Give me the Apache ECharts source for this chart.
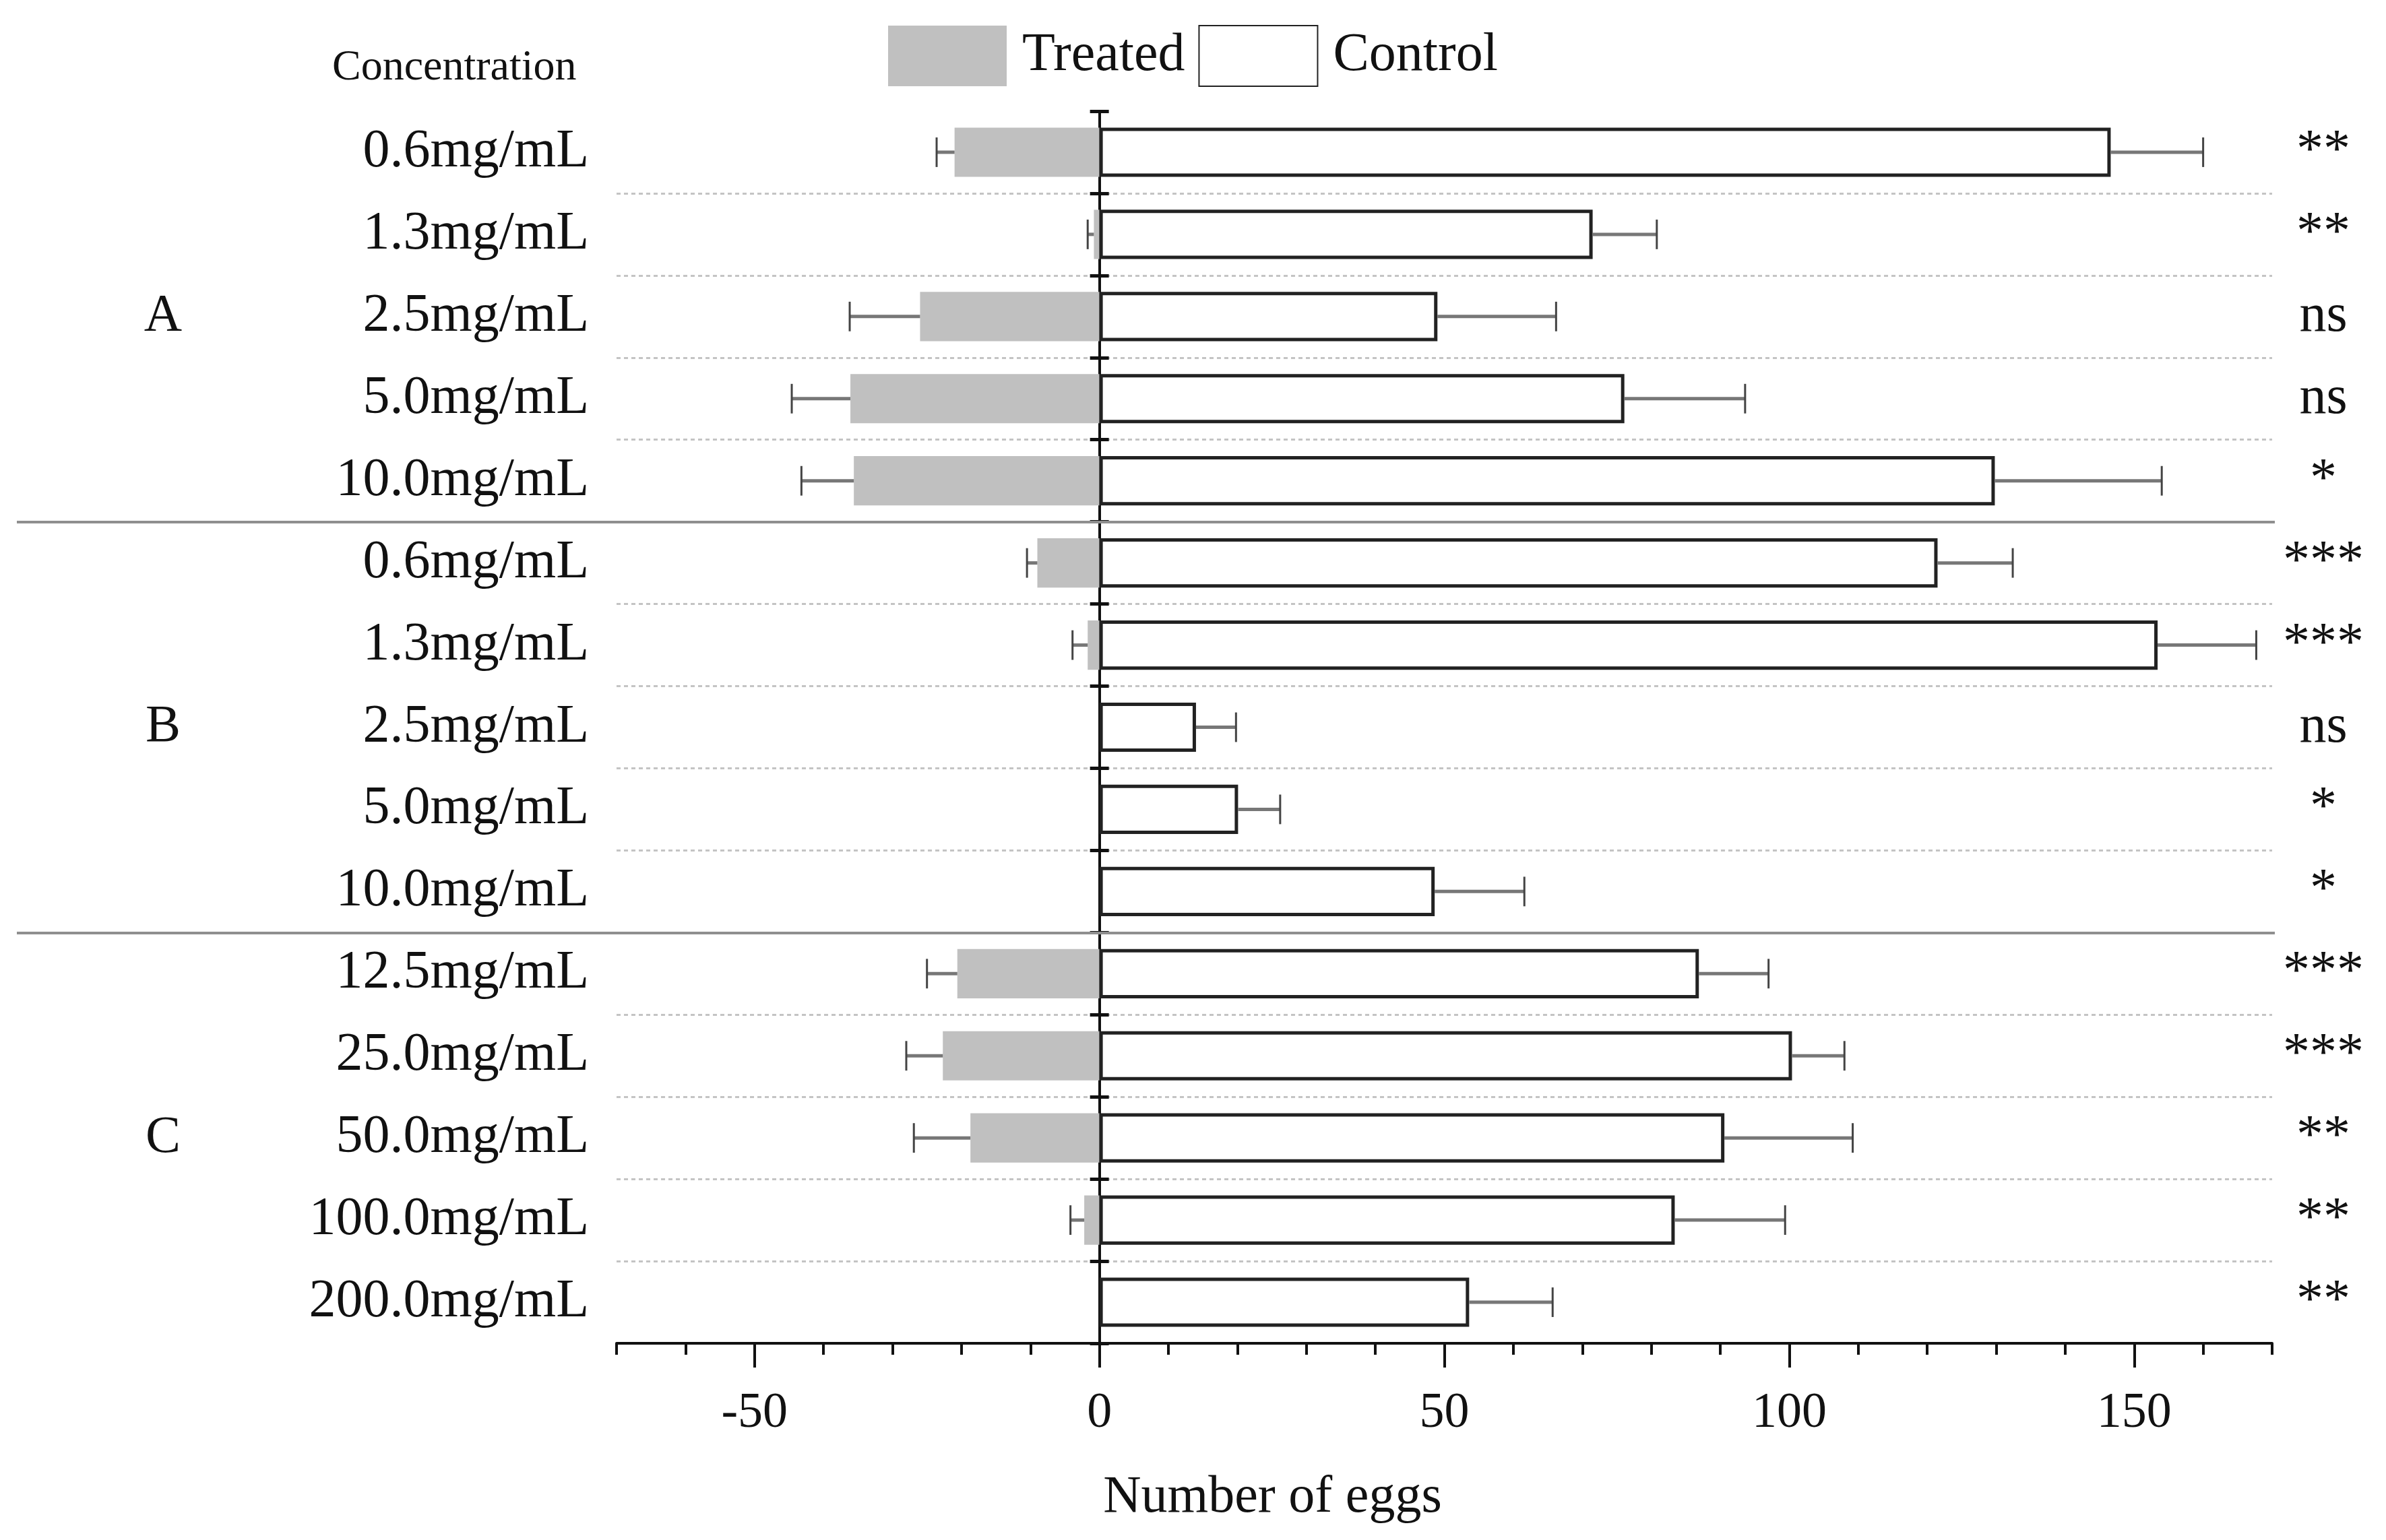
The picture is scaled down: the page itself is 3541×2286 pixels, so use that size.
<!DOCTYPE html>
<html><head><meta charset="utf-8">
<script src="https://cdn.jsdelivr.net/npm/echarts@6/dist/echarts.min.js"></script>
<style>html,body{margin:0;padding:0;background:#fff}#c{width:3541px;height:2286px}</style>
</head><body><div id="c"></div>
<script>
const concentrations = ['0.6mg/mL','1.3mg/mL','2.5mg/mL','5.0mg/mL','10.0mg/mL','0.6mg/mL','1.3mg/mL','2.5mg/mL','5.0mg/mL','10.0mg/mL','12.5mg/mL','25.0mg/mL','50.0mg/mL','100.0mg/mL','200.0mg/mL'];
const groupLabels = ['', '', 'A', '', '', '', '', 'B', '', '', '', '', 'C', '', ''];
const treated = [-21.0,-0.8,-26.0,-36.1,-35.6,-9.0,-1.7,0,0,0,-20.6,-22.7,-18.7,-2.2,0];
const treatedErr = [-23.6,-1.7,-36.2,-44.6,-43.2,-10.5,-3.9,null,null,null,-25.0,-28.0,-26.9,-4.2,null];
const control = [146.6,71.5,49.0,76.1,129.8,121.5,153.4,14.0,20.1,48.6,86.9,100.4,90.6,83.4,53.6];
const controlErr = [160.0,80.8,66.2,93.6,154.0,132.4,167.7,19.8,26.2,61.6,97.0,108.0,109.2,99.4,65.7];
const significance = ['**','**','ns','ns','*','***','***','ns','*','*','***','***','**','**','**'];
const majorTicks = [-50,0,50,100,150];
const minorTicks = [-70,-60,-40,-30,-20,-10,10,20,30,40,60,70,80,90,110,120,130,140,160,170];
const separatorRows = [5,10];

const F = "'Liberation Serif','Times New Roman',serif";
const INK = '#111';

const errData = [];
for (let i = 0; i < concentrations.length; i++) {
  if (treatedErr[i] != null) errData.push([treated[i], treatedErr[i], i]);
  if (controlErr[i] != null) errData.push([control[i], controlErr[i], i]);
}

const chart = echarts.init(document.getElementById('c'), null, {renderer:'canvas'});
const hideAll = {axisLine:{show:false,onZero:false}, axisTick:{show:false}, axisLabel:{show:false}, splitLine:{show:false}};

chart.setOption({
  animation:false,
  backgroundColor:'#fff',
  textStyle:{fontFamily:F, color:INK},
  title:{text:'Concentration', left:488, top:64, textStyle:{fontSize:64, fontWeight:'normal', fontFamily:F, color:INK}},
  legend:{data:['Treated','Control'], left:1313, top:32, itemWidth:176, itemHeight:90, itemGap:20, icon:'rect',
    textStyle:{fontSize:80, fontFamily:F, color:INK, padding:[0,0,0,18]}},
  grid:[
    {left:915, right:169, top:165, bottom:292},
    {left:25, right:165, top:165, bottom:292}
  ],
  xAxis:[
    {type:'value', gridIndex:0, position:'bottom', min:-70, max:170,
      axisLine:{show:true, onZero:false, lineStyle:{color:INK, width:4}},
      axisTick:{show:true, customValues:majorTicks, length:36, lineStyle:{color:INK, width:4}},
      axisLabel:{customValues:majorTicks, fontSize:74, margin:68, color:INK, fontFamily:F},
      splitLine:{show:false},
      name:'Number of eggs', nameLocation:'middle', nameGap:191,
      nameTextStyle:{fontSize:78, fontFamily:F, color:INK, padding:[0,510,0,0]}},
    {type:'value', gridIndex:0, position:'bottom', min:-70, max:170,
      axisLine:{show:false, onZero:false},
      axisTick:{show:true, customValues:minorTicks, length:17, lineStyle:{color:INK, width:4}},
      axisLabel:{show:false}, splitLine:{show:false}},
    Object.assign({type:'value', gridIndex:1, min:0, max:1}, hideAll)
  ],
  yAxis:[
    {type:'category', gridIndex:0, data:concentrations, inverse:true, position:'left',
      axisLine:{show:false, onZero:false}, axisTick:{show:false},
      axisLabel:{interval:0, fontSize:80, margin:41, color:INK, fontFamily:F},
      splitLine:{show:true, interval:function(i){return i!==0 && separatorRows.indexOf(i)<0;},
        lineStyle:{type:[6,5], color:'#c4c4c4', width:3}}},
    {type:'category', gridIndex:0, data:concentrations, inverse:true, position:'left',
      axisLine:{show:true, onZero:true, onZeroAxisIndex:0, lineStyle:{color:INK, width:4}},
      axisTick:{show:true, interval:0, length:14, lineStyle:{color:INK, width:5}},
      axisLabel:{show:false}, splitLine:{show:false}},
    {type:'category', gridIndex:0, data:concentrations, inverse:true, position:'left',
      axisLine:{show:false, onZero:true, onZeroAxisIndex:0},
      axisTick:{show:true, inside:true, interval:0, length:14, lineStyle:{color:INK, width:5}},
      axisLabel:{show:false}, splitLine:{show:false}},
    {type:'category', gridIndex:0, data:groupLabels, inverse:true, position:'left', offset:673,
      axisLine:{show:false, onZero:false}, axisTick:{show:false},
      axisLabel:{interval:0, fontSize:78, margin:0, align:'center', verticalAlign:'middle', color:INK, fontFamily:F,
        lineHeight:78, padding:[0,0,26,0]},
      splitLine:{show:false}},
    {type:'category', gridIndex:0, data:significance, inverse:true, position:'right',
      axisLine:{show:false, onZero:false}, axisTick:{show:false},
      axisLabel:{interval:0, fontSize:80, margin:76, align:'center', color:INK, fontFamily:F},
      splitLine:{show:false}},
    Object.assign({type:'value', gridIndex:1, min:0, max:15, inverse:true}, hideAll)
  ],
  series:[
    {name:'Treated', type:'bar', xAxisIndex:0, yAxisIndex:0, data:treated, barWidth:'60%', barGap:'-100%',
      itemStyle:{color:'#c0c0c0'}},
    {name:'Control', type:'bar', xAxisIndex:0, yAxisIndex:0, data:control, barWidth:'60%', barGap:'-100%',
      itemStyle:{color:'#ffffff', borderColor:'#222', borderWidth:5}},
    {name:'err', type:'custom', xAxisIndex:0, yAxisIndex:0, data:errData, encode:{x:[0,1], y:2}, z:3,
      renderItem:function(params, api){
        const a = api.coord([api.value(0), api.value(2)]);
        const b = api.coord([api.value(1), api.value(2)]);
        const h = api.size([0,1])[1] * 0.18;
        return {type:'group', children:[
          {type:'line', shape:{x1:a[0], y1:a[1], x2:b[0], y2:b[1]}, style:{stroke:'#777', lineWidth:5}},
          {type:'line', shape:{x1:b[0], y1:b[1]-h, x2:b[0], y2:b[1]+h}, style:{stroke:'#444', lineWidth:3}}
        ]};
      }},
    {name:'separators', type:'line', xAxisIndex:2, yAxisIndex:5, data:[], silent:true, z:1,
      markLine:{silent:true, symbol:['none','none'], label:{show:false}, animation:false,
        lineStyle:{type:'solid', color:'#8f8f8f', width:4},
        data:separatorRows.map(function(r){return {yAxis:r};})}}
  ]
});
</script></body></html>
